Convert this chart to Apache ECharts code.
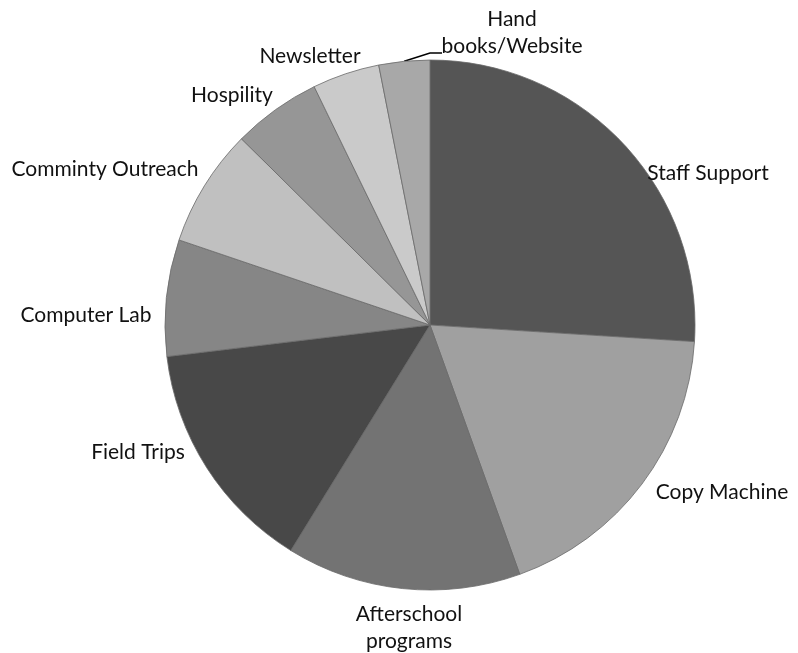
<!DOCTYPE html>
<html>
<head>
<meta charset="utf-8">
<script src="https://cdn.jsdelivr.net/npm/echarts@6/dist/echarts.min.js"></script>
<style>
  html, body { margin: 0; padding: 0; background: #fff; }
  #chartPie { width: 798px; height: 653px; }
</style>
</head>
<body>
<div id="chartPie"></div>
<script>
// categories clockwise from 12 o'clock
var categories = ['Staff Support', 'Copy Machine', 'Afterschool\nprograms', 'Field Trips',
  'Computer Lab', 'Comminty Outreach', 'Hospility', 'Newsletter', 'Hand\nbooks/Website']
var values = [26.0, 18.5, 14.3, 14.3, 7.1, 7.2, 5.4, 4.1, 3.1]
var colors = ['#555555', '#a0a0a0', '#737373', '#484848', '#868686', '#c0c0c0', '#969696', '#cacaca', '#a8a8a8']

// where the labels sit (centre of text block), like the original best-fit layout
var labelPos = [[708, 173], [722, 492], [409, 628], [138, 452], [86, 315],
  [105, 169], [232, 95], [310, 56], [512, 33]]

var pieData = categories.map(function (name, i) {
  var item = { name: name, value: values[i], itemStyle: { color: colors[i] } }
  if (i === categories.length - 1) {
    item.labelLine = { show: true, lineStyle: { color: '#000', width: 1.5 } }
  }
  return item
})

var chartPie = echarts.init(document.getElementById('chartPie'))
chartPie.setOption({
  animation: false,
  series: [{
    type: 'pie',
    center: [430, 325],
    radius: 265,
    startAngle: 90,
    clockwise: true,
    data: pieData,
    itemStyle: { borderColor: '#6a6a6a', borderWidth: 0.8 },
    label: {
      show: true,
      position: 'outside',
      overflow: 'none',
      color: '#111',
      fontFamily: 'Lato',
      fontSize: 21,
      lineHeight: 27
    },
    labelLine: { show: false, length: 12, length2: 12 },
    labelLayout: function (params) {
      var p = labelPos[params.dataIndex]
      var out = { x: p[0], y: p[1], align: 'center', verticalAlign: 'middle' }
      if (params.dataIndex === categories.length - 1 && params.labelLinePoints) {
        var s = params.labelLinePoints[0]
        out.labelLinePoints = [s, [430, 53], [442, 53]]
      }
      return out
    },
    emphasis: { disabled: true }
  }]
})
</script>
</body>
</html>
